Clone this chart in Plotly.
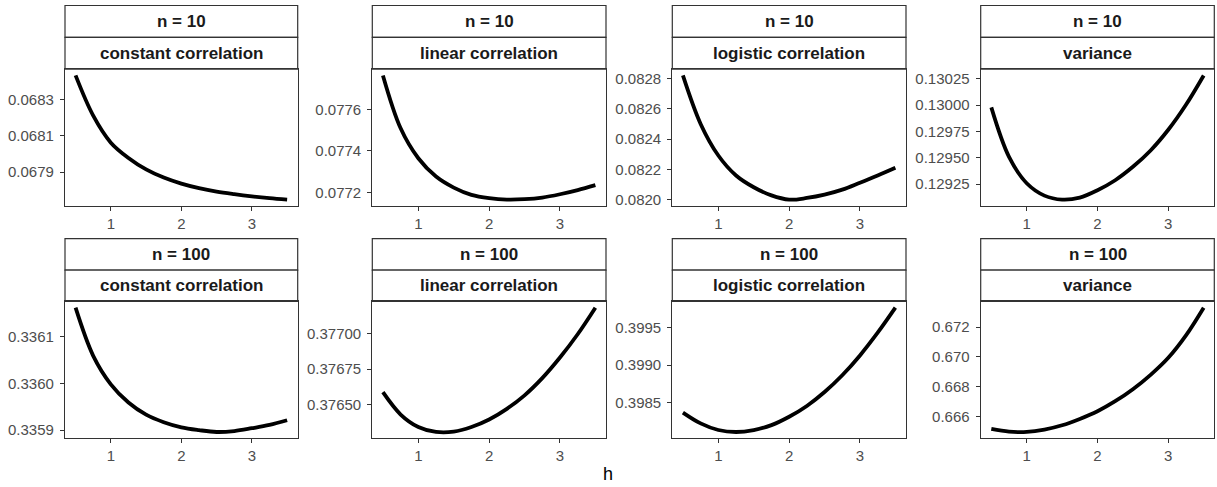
import plotly.graph_objects as go

W, H = 1217, 487

h = [0.5, 0.75, 1.0, 1.25, 1.5, 1.75, 2.0, 2.25, 2.5, 2.75, 3.0, 3.25, 3.5]

n_labels = ["n = 10", "n = 100"]
type_labels = ["constant correlation", "linear correlation", "logistic correlation", "variance"]

# n = 10
n10_constant = [0.068431, 0.068210, 0.068062, 0.067978, 0.067915, 0.067870, 0.067837,
                0.067812, 0.067793, 0.067779, 0.067767, 0.067757, 0.067749]
n10_linear = [0.077763, 0.077509, 0.077365, 0.077277, 0.077224, 0.077189, 0.077173,
              0.077166, 0.077168, 0.077176, 0.077192, 0.077212, 0.077236]
n10_logistic = [0.082822, 0.082501, 0.082292, 0.082160, 0.082082, 0.082028, 0.082000,
                0.082011, 0.082033, 0.082066, 0.082112, 0.082160, 0.082211]
n10_variance = [0.129978, 0.129509, 0.129259, 0.129142, 0.129104, 0.129123, 0.129193,
                0.129288, 0.129415, 0.129570, 0.129766, 0.130003, 0.130281]
# n = 100
n100_constant = [0.336162, 0.336059, 0.335998, 0.335959, 0.335933, 0.335917, 0.335906,
                 0.335900, 0.335896, 0.335898, 0.335904, 0.335911, 0.335921]
n100_linear = [0.376587, 0.376430, 0.376342, 0.376307, 0.376309, 0.376342, 0.376395,
               0.376470, 0.376565, 0.376686, 0.376831, 0.376995, 0.377182]
n100_logistic = [0.398368, 0.398224, 0.398136, 0.398110, 0.398136, 0.398201, 0.398312,
                 0.398456, 0.398641, 0.398864, 0.399128, 0.399430, 0.399763]
n100_variance = [0.665146, 0.664966, 0.664944, 0.665101, 0.665393, 0.665820, 0.666337,
                 0.667011, 0.667820, 0.668787, 0.669933, 0.671438, 0.673300]

series = [[n10_constant, n10_linear, n10_logistic, n10_variance],
          [n100_constant, n100_linear, n100_logistic, n100_variance]]

x_ticks = [1, 2, 3]
y_ticks = [
    [["0.0679", "0.0681", "0.0683"], ["0.0772", "0.0774", "0.0776"],
     ["0.0820", "0.0822", "0.0824", "0.0826", "0.0828"],
     ["0.12925", "0.12950", "0.12975", "0.13000", "0.13025"]],
    [["0.3359", "0.3360", "0.3361"], ["0.37650", "0.37675", "0.37700"],
     ["0.3985", "0.3990", "0.3995"], ["0.666", "0.668", "0.670", "0.672"]],
]

# layout in pixels
col_px = [(65, 297.7), (372.3, 606), (672.3, 906), (980.7, 1214.3)]
row_px = [  # strip top, strip mid, panel top, panel bottom
    (5.5, 37.5, 69.5, 206.7),
    (239.7, 271.2, 302.7, 440),
]

def fx(px):
    return px / W

def fy(py):
    return 1 - py / H

BORDER = "#333333"
FONT = "Liberation Sans, Arial, Helvetica, sans-serif"

fig = go.Figure()
shapes = []
annotations = []
k = 0
for r in range(2):
    st, sm, pt, pb = row_px[r]
    for c in range(4):
        k += 1
        xa = "x" if k == 1 else f"x{k}"
        ya = "y" if k == 1 else f"y{k}"
        vals = series[r][c]
        fig.add_trace(go.Scatter(x=h, y=vals, mode="lines",
                                 line=dict(color="black", width=3.8, shape="spline", smoothing=1.0),
                                 xaxis=xa, yaxis=ya, showlegend=False, hoverinfo="skip"))
        lo, hi = min(vals), max(vals)
        pad = 0.05 * (hi - lo)
        x0, x1 = col_px[c]
        lx = "xaxis" if k == 1 else f"xaxis{k}"
        ly = "yaxis" if k == 1 else f"yaxis{k}"
        fig.layout[lx] = dict(domain=[fx(x0), fx(x1)], range=[0.35, 3.65], anchor=ya,
                              tickvals=x_ticks, ticktext=[str(t) for t in x_ticks],
                              showline=True, mirror=True, linecolor=BORDER, linewidth=1.2,
                              ticks="outside", ticklen=4, tickwidth=1.1, tickcolor=BORDER,
                              showgrid=False, zeroline=False,
                              tickfont=dict(family=FONT, size=15, color="#4D4D4D"))
        tv = [float(t) for t in y_ticks[r][c]]
        fig.layout[ly] = dict(domain=[fy(pb), fy(pt)], range=[lo - pad, hi + pad], anchor=xa,
                              tickvals=tv, ticktext=y_ticks[r][c],
                              showline=True, mirror=True, linecolor=BORDER, linewidth=1.2,
                              ticks="outside", ticklen=4, tickwidth=1.1, tickcolor=BORDER,
                              ticklabelstandoff=3,
                              showgrid=False, zeroline=False,
                              tickfont=dict(family=FONT, size=15, color="#4D4D4D"))
        # strips
        for (a, b, txt) in [(st, sm, n_labels[r]), (sm, pt, type_labels[c])]:
            shapes.append(dict(type="rect", xref="paper", yref="paper",
                               x0=fx(x0), x1=fx(x1), y0=fy(b), y1=fy(a),
                               fillcolor="white", line=dict(color=BORDER, width=1.2), layer="below"))
            annotations.append(dict(xref="paper", yref="paper", x=fx((x0 + x1) / 2), y=fy((a + b) / 2),
                                    text=txt, showarrow=False, xanchor="center", yanchor="middle",
                                    font=dict(family=FONT, size=17, color="#1A1A1A", weight="bold")))

annotations.append(dict(xref="paper", yref="paper", x=fx(608), y=fy(476), text="h", showarrow=False,
                        xanchor="center", yanchor="middle",
                        font=dict(family=FONT, size=18, color="black")))

fig.update_layout(width=W, height=H, margin=dict(l=0, r=0, t=0, b=0),
                  paper_bgcolor="white", plot_bgcolor="white",
                  shapes=shapes, annotations=annotations)

fig.write_html("out.html")
